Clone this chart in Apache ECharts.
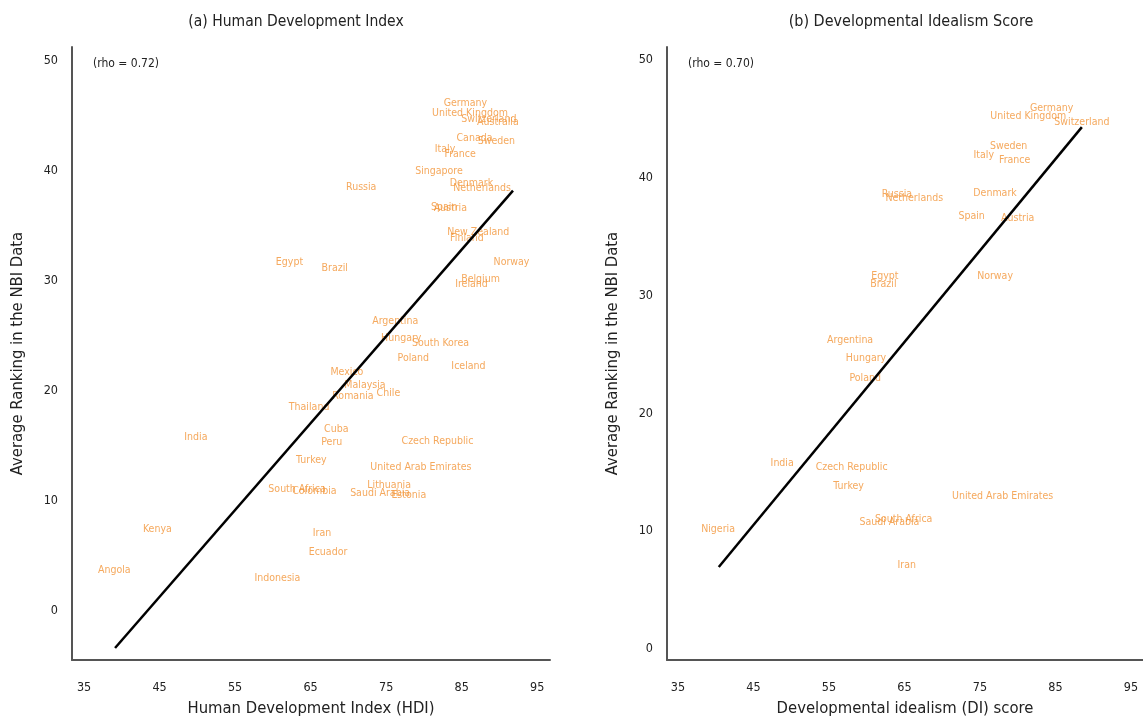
<!DOCTYPE html>
<html>
<head>
<meta charset="utf-8">
<script src="https://cdn.jsdelivr.net/npm/echarts@6/dist/echarts.min.js"></script>
<style>
  html, body { margin: 0; padding: 0; background: #fff; }
  #chart { width: 1143px; height: 722px; }
</style>
</head>
<body>
<div id="chart"></div>
<script>
// panel (a): HDI vs NBI ranking
var hdiCountries = ["Germany", "United Kingdom", "Switzerland", "Australia", "Canada", "Sweden", "Italy", "France",
  "Singapore", "Russia", "Denmark", "Netherlands", "Spain", "Austria", "New Zealand", "Finland", "Norway",
  "Belgium", "Ireland", "Egypt", "Brazil", "Argentina", "Hungary", "South Korea", "Poland", "Iceland", "Mexico",
  "Malaysia", "Chile", "Romania", "Thailand", "Cuba", "Peru", "Czech Republic", "Turkey", "United Arab Emirates",
  "South Africa", "Colombia", "Lithuania", "Saudi Arabia", "Estonia", "India", "Kenya", "Angola", "Iran",
  "Ecuador", "Indonesia"];
var hdiX = [85.5, 86.1, 88.6, 89.8, 86.7, 89.6, 82.8, 84.8,
  82.0, 71.7, 86.3, 87.7, 82.7, 83.5, 87.2, 85.7, 91.6,
  87.5, 86.3, 62.2, 68.2, 76.2, 77.0, 82.2, 78.6, 85.9, 69.8,
  72.2, 75.3, 70.6, 64.8, 68.4, 67.8, 81.8, 65.1, 79.6,
  63.2, 65.5, 75.4, 74.2, 78.0, 49.8, 44.7, 39.0, 66.5,
  67.3, 60.6];
var hdiY = [46.1, 45.2, 44.7, 44.4, 43.0, 42.7, 42.0, 41.5,
  40.0, 38.5, 38.9, 38.4, 36.7, 36.6, 34.4, 33.9, 31.7,
  30.1, 29.7, 31.7, 31.1, 26.3, 24.8, 24.3, 23.0, 22.2, 21.7,
  20.5, 19.8, 19.5, 18.5, 16.5, 15.3, 15.4, 13.7, 13.1,
  11.1, 10.9, 11.4, 10.7, 10.5, 15.8, 7.4, 3.7, 7.1,
  5.3, 3.0];
var hdiFit = [[39.1, -3.36], [91.8, 38.2]];

// panel (b): DI score vs NBI ranking
var diCountries = ["Germany", "United Kingdom", "Switzerland", "Sweden", "Italy", "France", "Russia", "Netherlands",
  "Denmark", "Spain", "Austria", "Egypt", "Brazil", "Norway", "Argentina", "Hungary", "Poland", "India",
  "Czech Republic", "Turkey", "United Arab Emirates", "South Africa", "Saudi Arabia", "Nigeria", "Iran"];
var diX = [84.5, 81.4, 88.5, 78.8, 75.5, 79.6, 64.0, 66.3,
  77.0, 73.9, 80.0, 62.4, 62.2, 77.0, 57.8, 59.9, 59.8, 48.8,
  58.0, 57.6, 78.0, 64.9, 63.0, 40.3, 65.3];
var diY = [45.9, 45.2, 44.7, 42.7, 41.9, 41.5, 38.6, 38.3,
  38.7, 36.7, 36.6, 31.6, 31.0, 31.6, 26.2, 24.7, 23.0, 15.8,
  15.4, 13.8, 13.0, 11.0, 10.8, 10.2, 7.1];
var diFit = [[40.4, 6.96], [88.5, 44.3]];

var xTicks = [35, 45, 55, 65, 75, 85, 95];
var yTicks = [0, 10, 20, 30, 40, 50];

var FONT = '"Liberation Sans Narrow", "DejaVu Sans Condensed", "Liberation Sans", sans-serif';
var LABEL_COLOR = "#f39436";

function pts(xs, ys, names) {
  return xs.map(function (x, i) {
    return { value: [x, ys[i]], name: names[i] };
  });
}

function xAxis(idx, min, max, name) {
  return {
    type: "value", gridIndex: idx, min: min, max: max,
    name: name, nameLocation: "middle", nameGap: 40,
    nameTextStyle: { fontFamily: FONT, fontSize: 16.5, color: "#222" },
    splitLine: { show: false },
    axisTick: { show: false },
    axisLine: { show: true, onZero: false, lineStyle: { color: "#555", width: 2 } },
    axisLabel: { customValues: xTicks, fontFamily: FONT, fontSize: 12.5, color: "#222", margin: 21 }
  };
}

function yAxis(idx, min, max) {
  return {
    type: "value", gridIndex: idx, min: min, max: max,
    name: "Average Ranking in the NBI Data", nameLocation: "middle", nameGap: 46,
    nameTextStyle: { fontFamily: FONT, fontSize: 16.5, color: "#222" },
    splitLine: { show: false },
    axisTick: { show: false },
    axisLine: { show: true, onZero: false, lineStyle: { color: "#555", width: 2 } },
    axisLabel: { customValues: yTicks, fontFamily: FONT, fontSize: 12.5, color: "#222", margin: 14 }
  };
}

function labels(idx, data) {
  return {
    type: "scatter", xAxisIndex: idx, yAxisIndex: idx,
    data: data, symbolSize: 1,
    itemStyle: { color: "transparent" },
    label: {
      show: true, position: "inside",
      formatter: function (p) { return p.name; },
      fontFamily: FONT, fontSize: 10.5, color: LABEL_COLOR
    }
  };
}

function fitLine(idx, data) {
  return {
    type: "line", xAxisIndex: idx, yAxisIndex: idx,
    data: data, symbol: "none",
    lineStyle: { color: "#000", width: 2.5 }
  };
}

var chart = echarts.init(document.getElementById("chart"));
chart.setOption({
  animation: false,
  backgroundColor: "#fff",
  title: [
    { text: "(a) Human Development Index", left: 291, top: 9, textAlign: "center",
      textStyle: { fontFamily: FONT, fontSize: 15.5, fontWeight: "normal", color: "#222" } },
    { text: "(b) Developmental Idealism Score", left: 906, top: 9, textAlign: "center",
      textStyle: { fontFamily: FONT, fontSize: 16, fontWeight: "normal", color: "#222" } },
    { text: "(rho = 0.72)", left: 88, top: 53,
      textStyle: { fontFamily: FONT, fontSize: 12, fontWeight: "normal", color: "#222" } },
    { text: "(rho = 0.70)", left: 683, top: 53,
      textStyle: { fontFamily: FONT, fontSize: 12, fontWeight: "normal", color: "#222" } }
  ],
  grid: [
    { left: 72, top: 47, width: 478, height: 613, outerBoundsMode: "none" },
    { left: 667, top: 47, width: 476, height: 613, outerBoundsMode: "none" }
  ],
  xAxis: [
    xAxis(0, 33.4, 96.7, "Human Development Index (HDI)"),
    xAxis(1, 33.54, 96.6, "Developmental idealism (DI) score")
  ],
  yAxis: [
    yAxis(0, -4.45, 51.25),
    yAxis(1, -0.93, 51.1)
  ],
  series: [
    fitLine(0, hdiFit),
    labels(0, pts(hdiX, hdiY, hdiCountries)),
    fitLine(1, diFit),
    labels(1, pts(diX, diY, diCountries))
  ]
});
</script>
</body>
</html>
